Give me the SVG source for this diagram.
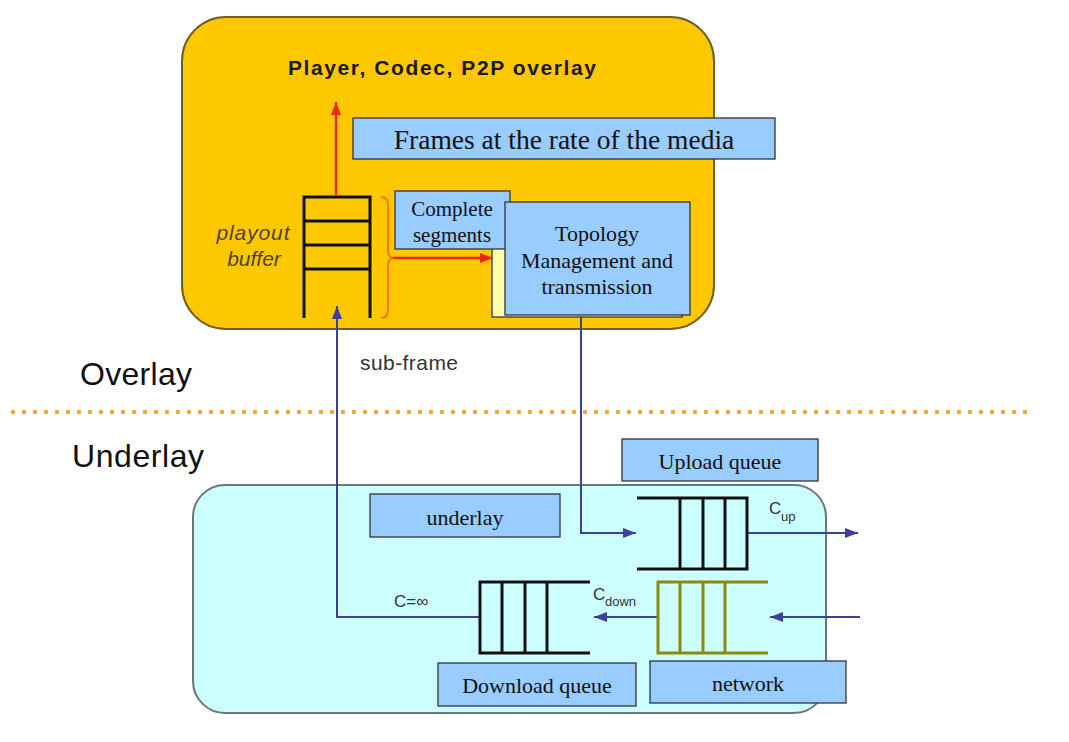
<svg xmlns="http://www.w3.org/2000/svg" width="1069" height="742" viewBox="0 0 1069 742">
<defs>
<style>
.lbl{fill:#99CCFF;stroke:#333;stroke-width:1.3}
.serif{font-family:"Liberation Serif","Times New Roman",serif;fill:#111;text-anchor:middle}
.sans{font-family:"Liberation Sans",Arial,sans-serif}
.q{stroke:#111;stroke-width:3;fill:none}
.qo{stroke:#8A8A10;stroke-width:3;fill:none}
.blue{stroke:#3E3E9C;stroke-width:2;fill:none}
.red{stroke:#E8281A;stroke-width:2.5;fill:none}
</style>
<marker id="ab" markerUnits="userSpaceOnUse" markerWidth="13" markerHeight="10" refX="13" refY="5" orient="auto"><path d="M0,0 L13,5 L0,10 z" fill="#3E3E9C"/></marker>
<marker id="ar" markerUnits="userSpaceOnUse" markerWidth="13" markerHeight="10" refX="13" refY="5" orient="auto"><path d="M0,0 L13,5 L0,10 z" fill="#E8281A"/></marker>
</defs>
<rect width="1069" height="742" fill="#fff"/>

<g id="overlay-box">
<rect x="182" y="17" width="532" height="312" rx="44" fill="#FDC800" stroke="#6E5E2A" stroke-width="2"/>
<text class="sans" x="442" y="75" font-size="21" font-weight="bold" text-anchor="middle" fill="#1a1a1a" textLength="308">Player, Codec, P2P overlay</text>
</g>

<g id="underlay-box">
<rect x="193" y="485" width="633" height="228" rx="32" fill="#CCFFFF" stroke="#6A7878" stroke-width="2"/>
</g>

<g id="divider">
<line x1="13" y1="412" x2="1030" y2="412" stroke="#EBA834" stroke-width="4.5" stroke-linecap="round" stroke-dasharray="0 11"/>
<text class="sans" x="80" y="385" font-size="32" fill="#111" textLength="112">Overlay</text>
<text class="sans" x="72" y="467" font-size="32" fill="#111" textLength="132">Underlay</text>
</g>

<g id="playout-buffer">
<path class="q" d="M304,318 V197 H370 V318 M304,221 H370 M304,245 H370 M304,269 H370"/>
<text class="sans" x="253" y="240" font-size="21" font-style="italic" fill="#4E4228" text-anchor="middle" textLength="73">playout</text>
<text class="sans" x="254" y="266" font-size="21" font-style="italic" fill="#4E4228" text-anchor="middle">buffer</text>
<path d="M381,197 Q388,197 388,205 L388,250 Q388,258 394,258 Q388,258 388,266 L388,310 Q388,318 381,318" fill="none" stroke="#F07A10" stroke-width="2"/>
</g>

<g id="connectors">
<line class="red" x1="336" y1="196" x2="336" y2="102" marker-end="url(#ar)"/>
<line class="red" x1="393" y1="258" x2="493" y2="258" stroke="#E8501A" marker-end="url(#ar)"/>
<path class="blue" d="M581,315 V533 H636" marker-end="url(#ab)"/>
<path class="blue" d="M480,617 H337 V306" marker-end="url(#ab)"/>
<line class="blue" x1="747" y1="533" x2="858" y2="533" marker-end="url(#ab)"/>
<line class="blue" x1="658" y1="617" x2="594" y2="617" marker-end="url(#ab)"/>
<line class="blue" x1="860" y1="617" x2="770" y2="617" marker-end="url(#ab)"/>
<text class="sans" x="360" y="370" font-size="21" fill="#333" textLength="98">sub-frame</text>
</g>

<g id="segments-holder">
<rect x="492" y="212" width="190" height="105" fill="#FFFFA8" stroke="#333" stroke-width="1.3"/>
</g>

<g id="complete-segments">
<rect class="lbl" x="395" y="191" width="115" height="58"/>
<text class="serif" x="452" y="216" font-size="21">Complete</text>
<text class="serif" x="452" y="242" font-size="21">segments</text>
</g>

<g id="topology">
<rect class="lbl" x="505" y="202" width="185" height="113"/>
<text class="serif" x="597" y="241" font-size="22">Topology</text>
<text class="serif" x="597" y="268" font-size="22">Management and</text>
<text class="serif" x="597" y="294" font-size="22">transmission</text>
</g>

<g id="frames">
<rect class="lbl" x="353" y="118" width="422" height="41"/>
<text class="serif" x="564" y="149" font-size="27.5">Frames at the rate of the media</text>
</g>

<g id="upload-queue">
<path class="q" d="M637,498 H747 V569 H637 M680,498 V569 M703,498 V569 M725,498 V569"/>
<rect class="lbl" x="622" y="439" width="196" height="42"/>
<text class="serif" x="720" y="469" font-size="22">Upload queue</text>
<text class="sans" x="769" y="514" font-size="17" fill="#333">C</text>
<text class="sans" x="781" y="521" font-size="13" fill="#333">up</text>
</g>

<g id="underlay-label">
<rect class="lbl" x="370" y="494" width="190" height="43"/>
<text class="serif" x="465" y="525" font-size="22">underlay</text>
</g>

<g id="download-queue">
<path class="q" d="M590,582 H480 V653 H590 M502,582 V653 M525,582 V653 M547,582 V653"/>
<rect class="lbl" x="438" y="663" width="198" height="43"/>
<text class="serif" x="537" y="693" font-size="22">Download queue</text>
<text class="sans" x="394" y="607" font-size="17" fill="#333">C=∞</text>
<text class="sans" x="593" y="600" font-size="17" fill="#333">C</text>
<text class="sans" x="605" y="606" font-size="13" fill="#333">down</text>
</g>

<g id="network">
<path class="qo" d="M768,582 H658 V653 H768 M680,582 V653 M703,582 V653 M725,582 V653"/>
<rect class="lbl" x="650" y="661" width="196" height="42"/>
<text class="serif" x="748" y="691" font-size="22">network</text>
</g>
</svg>
